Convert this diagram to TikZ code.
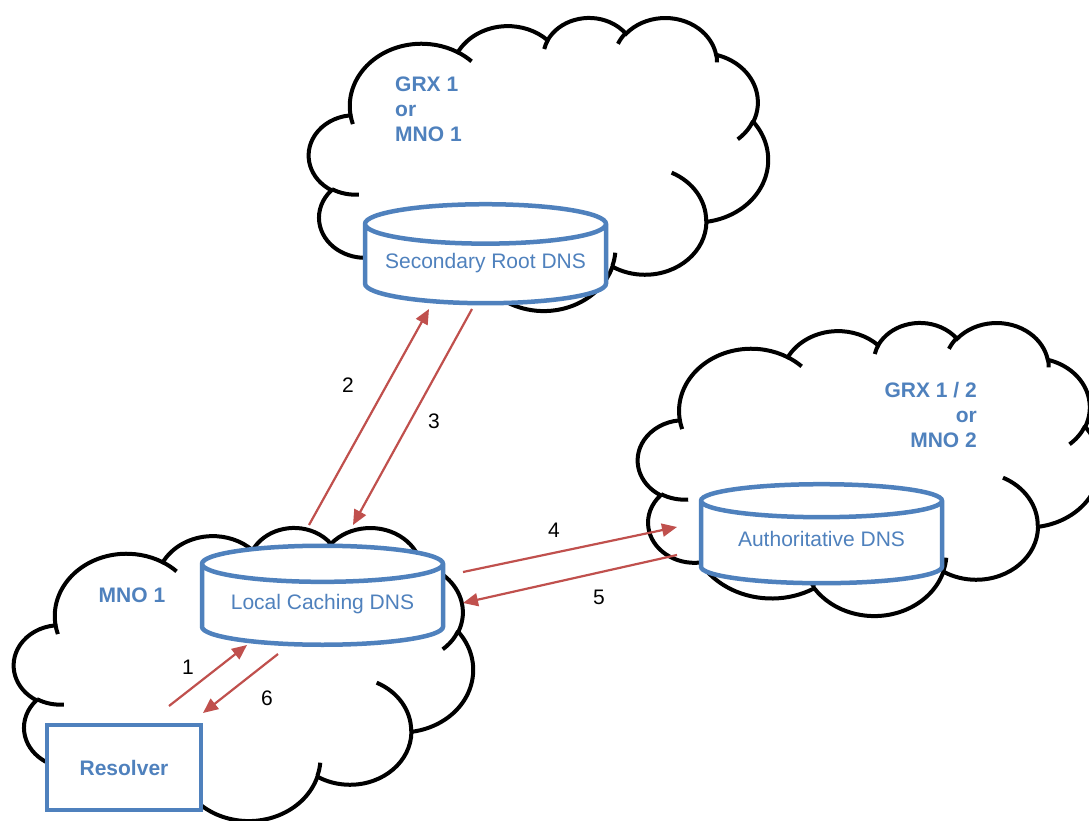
\documentclass[tikz,border=0pt]{standalone}
\usepackage{fontspec}
\setmainfont{Liberation Sans}
\usetikzlibrary{shapes.geometric, arrows.meta, positioning}
\definecolor{dnsblue}{RGB}{79,129,189}
\definecolor{flowred}{RGB}{192,80,77}

% one piece of an office-like cloud: x radius, y radius, start and sweep (visual angles)
\newcommand\cloudarc[4]{%
  \pgfextra{%
    \pgfmathparse{atan2(sin(#3)/#2,cos(#3)/#1)}\xdef\cloudta{\pgfmathresult}%
    \pgfmathparse{atan2(sin(#3+#4)/#2,cos(#3+#4)/#1)}\xdef\cloudtb{\pgfmathresult}%
    \pgfmathparse{\cloudtb+360*((#4>0)*(\cloudtb<\cloudta)-(#4<0)*(\cloudtb>\cloudta))}\xdef\cloudtb{\pgfmathresult}%
  }%
  arc[start angle=\cloudta, end angle=\cloudtb, x radius=#1, y radius=#2]}

% cloud in the box with top left corner (#1,#2), width #3, height #4
\newcommand\netcloud[4]{%
  \pgfmathsetmacro\cloudw{#3/43.2}%
  \pgfmathsetmacro\cloudh{#4/43.2}%
  \begin{scope}[shift={(#1,#2)}, x=\cloudw pt, y=-\cloudh pt]
    \filldraw[cloudline, fill=white] (3.9,14.37)
      \cloudarc{6.753}{9.19}{-190.4875}{123.7805}
      \cloudarc{5.333}{7.267}{-144.1024}{89.9452}
      \cloudarc{4.365}{5.945}{-145.8079}{99.7230}
      \cloudarc{4.857}{6.595}{-130.9861}{117.2417}
      \cloudarc{5.333}{7.273}{-78.7089}{109.0269}
      \cloudarc{6.775}{9.22}{-46.2673}{130.269}
      \cloudarc{5.785}{7.867}{0.625}{114.0333}
      \cloudarc{6.752}{9.215}{22.4516}{115.1726}
      \cloudarc{7.72}{10.543}{66.2426}{75.711}
      \cloudarc{4.36}{5.918}{-274.9421}{146.7356}
      \cloudarc{4.345}{5.945}{-246.8285}{152.5189} -- cycle;
    \draw[cloudline]
      (4.693,26.177) \cloudarc{4.345}{5.945}{86.742}{26.4295}
      (6.928,34.899) \cloudarc{4.36}{5.918}{73.6105}{11.4475}
      (16.478,39.09) \cloudarc{6.752}{9.215}{137.6242}{14.0811}
      (28.827,34.751) \cloudarc{6.752}{9.215}{6.4533}{15.9984}
      (34.129,22.954) \cloudarc{5.785}{7.867}{-70.2924}{70.9174}
      (41.798,15.354) \cloudarc{5.333}{7.273}{30.318}{27.7515}
      (38.324,5.426) \cloudarc{4.857}{6.595}{-13.7443}{14.8589}
      (29.078,3.952) \cloudarc{4.857}{6.595}{-149.1815}{18.1954}
      (22.141,4.72) \cloudarc{4.365}{5.945}{-163.4943}{17.6864}
      (14.0,5.192) \cloudarc{6.753}{9.19}{-66.707}{12.3194}
      (4.127,15.789) \cloudarc{6.753}{9.19}{157.6544}{11.8582};
  \end{scope}}

\begin{document}
\begin{tikzpicture}[x=1pt, y=-1pt,
    cloudline/.style={line width=4pt, draw=black},
    dbnode/.style={cylinder, shape border rotate=90, aspect=0.19, draw=dnsblue,
      line width=4.5pt, fill=white, minimum width=241pt, minimum height=99pt,
      text height=15pt, text depth=12pt, text=dnsblue,
      font=\fontsize{21}{25}\selectfont},
    hostbox/.style={rectangle, draw=dnsblue, line width=4.5pt, fill=white,
      minimum width=154pt, minimum height=85pt, text=dnsblue,
      font=\fontsize{21}{25}\selectfont\bfseries},
    netlabel/.style={text=dnsblue, font=\fontsize{21}{25}\selectfont\bfseries, inner sep=0pt},
    steplabel/.style={font=\fontsize{21}{25}\selectfont, inner sep=0pt},
    flow/.style={draw=flowred, line width=2.2pt, -{Triangle[length=15pt, width=13pt]}}]
  \useasboundingbox (0,0) rectangle (1089,821);

  % the three networks
  \netcloud{309}{17}{459}{293}
  \netcloud{638}{322}{462}{293}
  \netcloud{14}{527}{459}{293}

  % servers
  \node[dbnode] (secroot) at (485.5,267) {Secondary Root DNS};
  \node[dbnode] (authdns) at (821.5,545) {Authoritative DNS};
  \node[dbnode] (localdns) at (322.5,607.5) {Local Caching DNS};
  \node[hostbox] (resolver) at (124,767.5) {Resolver};

  % network names
  \node[netlabel, align=left, anchor=north west] (grxa) at (395,77) {GRX 1\\or\\MNO 1};
  \node[netlabel, align=right, anchor=north east] (grxb) at (977,382) {GRX 1 / 2\\or\\MNO 2};
  \node[netlabel] (mnoa) at (132,595) {MNO 1};

  % query path
  \coordinate (q1s) at (169,706);  \coordinate (q1e) at (247,645);
  \coordinate (q2s) at (309,525);  \coordinate (q2e) at (429,309);
  \coordinate (q3s) at (472,309);  \coordinate (q3e) at (353,525);
  \coordinate (q4s) at (463,572);  \coordinate (q4e) at (677,527);
  \coordinate (q5s) at (677,555);  \coordinate (q5e) at (463,603);
  \coordinate (q6s) at (278,654);  \coordinate (q6e) at (203,713);
  \draw[flow] (q1s) -- (q1e);
  \draw[flow] (q2s) -- (q2e);
  \draw[flow] (q3s) -- (q3e);
  \draw[flow] (q4s) -- (q4e);
  \draw[flow] (q5s) -- (q5e);
  \draw[flow] (q6s) -- (q6e);

  \node[steplabel] (n1) at (188,667) {1};
  \node[steplabel] (n2) at (348,385) {2};
  \node[steplabel] (n3) at (434,421) {3};
  \node[steplabel] (n4) at (554,530) {4};
  \node[steplabel] (n5) at (599,597) {5};
  \node[steplabel] (n6) at (267,698) {6};
\end{tikzpicture}
\end{document}
